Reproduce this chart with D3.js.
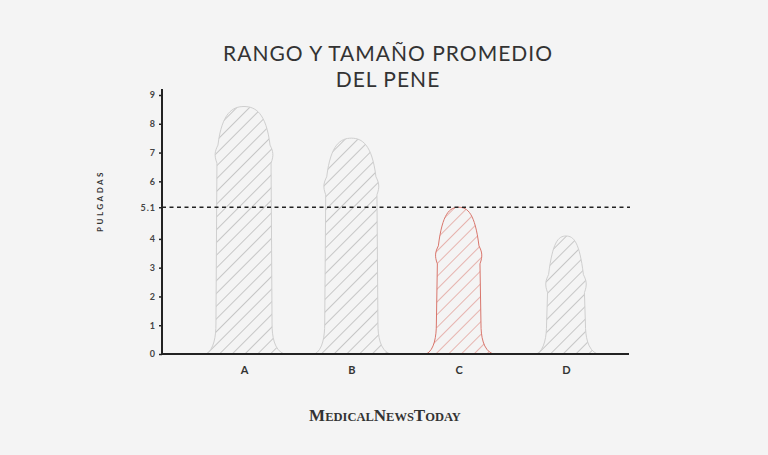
<!DOCTYPE html><html><head><meta charset="utf-8"><script src="https://cdn.jsdelivr.net/npm/d3@7"></script>
<style>body{margin:0;background:#f4f4f4}</style></head><body><svg id="c" width="768" height="455"></svg>
<script>
const categories=["A","B","C","D"];
const values=[8.6,7.5,5.1,4.1];
const girth=[1.95,1.85,1.55,1.35];
const average=5.1;
const yTicks=[0,1,2,3,4,5.1,6,7,8,9];
const highlight="C";
const svg=d3.select("#c");
svg.append("rect").attr("width",768).attr("height",455).attr("fill","#f4f4f4");
const defs=svg.append("defs");
function pat(id,col){const p=defs.append("pattern").attr("id",id).attr("patternUnits","userSpaceOnUse").attr("width",9).attr("height",9).attr("patternTransform","rotate(45)");
p.append("line").attr("x1",0).attr("y1",0).attr("x2",0).attr("y2",9).attr("stroke",col).attr("stroke-width",1);}
pat("hg","#9a9a9a");pat("hr","#d9766c");
const x=d3.scalePoint().domain(categories).range([244,566]);
const y=d3.scaleLinear().domain([0,9]).range([354,95]);
const pxPerUnit=y(0)-y(1);
const t=svg.append("text").attr("x",388).attr("text-anchor","middle").attr("font-family","Lato, sans-serif").attr("font-size",21).attr("fill","#333").attr("letter-spacing",1);
t.append("tspan").attr("x",388).attr("y",61).text("RANGO Y TAMAÑO PROMEDIO");
t.append("tspan").attr("x",388).attr("y",87).text("DEL PENE");
categories.forEach((c,i)=>{
 const cx=x(c),w=girth[i]*pxPerUnit/2,top=y(values[i]),b=y(0);
 const gl=y(values[i]-1.55);
 const p=d3.path();
 p.moveTo(cx-w-10,b);
 p.bezierCurveTo(cx-w-2,b-4,cx-w,b-18,cx-w,b-30);
 p.lineTo(cx-w+1,gl+12);
 p.bezierCurveTo(cx-w-2,gl+4,cx-w-1,gl,cx-w+2,gl-6);
 p.bezierCurveTo(cx-w+6,top+6,cx-w*0.4,top,cx,top);
 p.bezierCurveTo(cx+w*0.4,top,cx+w-6,top+6,cx+w-2,gl-6);
 p.bezierCurveTo(cx+w+1,gl,cx+w+2,gl+4,cx+w-1,gl+12);
 p.lineTo(cx+w,b-30);
 p.bezierCurveTo(cx+w,b-18,cx+w+2,b-4,cx+w+12,b);
 p.closePath();
 const hl=c===highlight;
 svg.append("path").attr("d",p.toString()).attr("fill",hl?"url(#hr)":"url(#hg)").attr("stroke",hl?"#d9766c":"#cfcfcf").attr("stroke-width",1);
});
svg.append("line").attr("x1",162).attr("x2",630).attr("y1",y(average)).attr("y2",y(average)).attr("stroke","#222").attr("stroke-width",1.6).attr("stroke-dasharray","4,3.5");
const ya=svg.append("g").attr("transform","translate(162,0)").call(d3.axisLeft(y).tickValues(yTicks).tickSize(3).tickFormat(d=>d===5.1?"5.1":d3.format("d")(d)));
ya.select(".domain").attr("stroke","#222").attr("stroke-width",2).attr("d","M0,89V354");
ya.selectAll(".tick line").attr("stroke","#222").attr("stroke-width",1.5);
ya.selectAll("text").attr("font-family","Lato, sans-serif").attr("font-weight","bold").attr("font-size",9).attr("fill","#444").attr("letter-spacing",1);
const xa=svg.append("g").attr("transform","translate(0,354)").call(d3.axisBottom(x).tickSize(0).tickPadding(12));
xa.select(".domain").attr("stroke","#222").attr("stroke-width",2).attr("d","M161,0H629");
xa.selectAll("text").attr("font-family","Lato, sans-serif").attr("font-weight","bold").attr("font-size",11).attr("fill","#333");
svg.append("text").attr("transform","translate(103,201) rotate(-90)").attr("text-anchor","middle").attr("font-family","Lato, sans-serif").attr("font-weight","bold").attr("font-size",8).attr("letter-spacing",2.5).attr("fill","#333").text("PULGADAS");
const lg=svg.append("text").attr("x",385).attr("y",421).attr("text-anchor","middle").attr("font-family","Liberation Serif, serif").attr("font-weight","bold").attr("fill","#333");
[["M",17],["EDICAL",12.5],["N",17],["EWS",12.5],["T",17],["ODAY",12.5]].forEach(([s,f])=>lg.append("tspan").attr("font-size",f).text(s));
</script></body></html>
